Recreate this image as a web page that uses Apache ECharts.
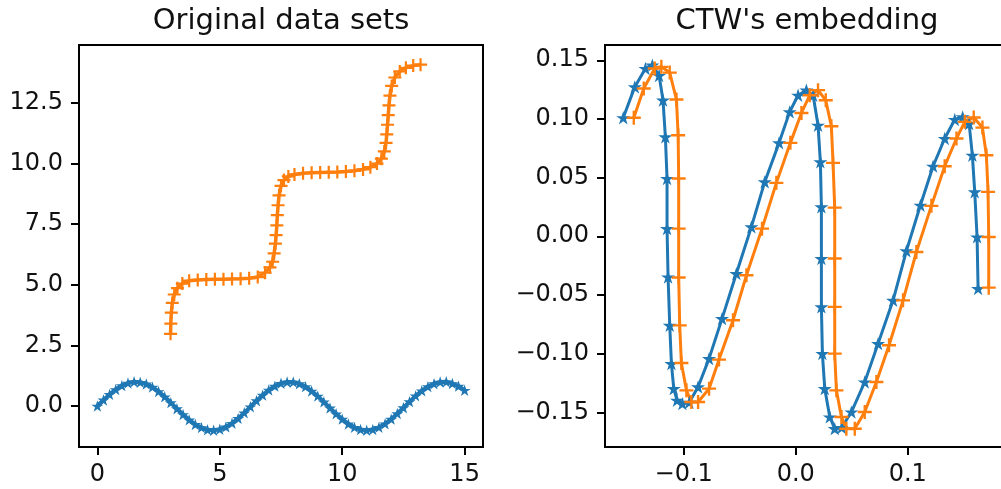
<!DOCTYPE html>
<html>
<head>
<meta charset="utf-8">
<script src="https://cdn.jsdelivr.net/npm/echarts@6/dist/echarts.min.js"></script>
<style>
html,body{margin:0;padding:0;background:#fff;}
#main{width:1001px;height:489px;}
</style>
</head>
<body>
<div id="main"></div>
<script>
// left panel: original data sets
var sinX = [0,0.25,0.5,0.75,1,1.25,1.5,1.75,2,2.25,2.5,2.75,3,3.25,3.5,3.75,4,4.25,4.5,4.75,5,5.25,5.5,5.75,6,6.25,6.5,6.75,7,7.25,7.5,7.75,8,8.25,8.5,8.75,9,9.25,9.5,9.75,10,10.25,10.5,10.75,11,11.25,11.5,11.75,12,12.25,12.5,12.75,13,13.25,13.5,13.75,14,14.25,14.5,14.75,15];
var sinY = [0.00,0.25,0.48,0.68,0.84,0.95,1.00,0.98,0.91,0.78,0.60,0.38,0.14,-0.11,-0.35,-0.57,-0.76,-0.89,-0.98,-1.00,-0.96,-0.86,-0.71,-0.51,-0.28,-0.03,0.22,0.45,0.66,0.82,0.94,0.99,0.99,0.92,0.80,0.62,0.41,0.17,-0.08,-0.32,-0.54,-0.74,-0.88,-0.97,-1.00,-0.97,-0.88,-0.73,-0.54,-0.31,-0.07,0.18,0.42,0.63,0.80,0.92,0.99,1.00,0.93,0.82,0.65];
var stepX = [2.99,3.0,3.02,3.06,3.14,3.27,3.47,3.75,4.1,4.45,4.8,5.15,5.5,5.85,6.2,6.55,6.85,7.05,7.16,7.22,7.27,7.3,7.33,7.35,7.38,7.42,7.5,7.62,7.8,8.05,8.4,8.75,9.1,9.45,9.8,10.15,10.5,10.85,11.15,11.42,11.6,11.72,11.79,11.82,11.85,11.88,11.91,11.95,12.02,12.15,12.35,12.6,12.9,13.2];
var stepY = [2.98,3.4,3.85,4.25,4.6,4.86,5.05,5.17,5.2,5.22,5.23,5.23,5.24,5.25,5.27,5.32,5.5,5.72,5.95,6.3,6.7,7.05,7.45,7.87,8.28,8.69,9.08,9.32,9.47,9.55,9.6,9.62,9.63,9.64,9.65,9.67,9.7,9.76,9.85,10.0,10.2,10.5,10.85,11.2,11.6,12.0,12.4,12.8,13.2,13.55,13.8,13.95,14.04,14.08];

// right panel: CTW's embedding
var ctwBlueX = [-0.154,-0.1437,-0.1342,-0.128,-0.122,-0.1185,-0.1164,-0.1149,-0.1149,-0.114,-0.1125,-0.111,-0.1089,-0.106,-0.1012,-0.095,-0.0872,-0.0774,-0.0658,-0.053,-0.0396,-0.0277,-0.0149,-0.0054,0.0021,0.0095,0.0155,0.0199,0.022,0.0229,0.0229,0.0229,0.0238,0.0259,0.0304,0.0348,0.041,0.0497,0.0616,0.0735,0.0869,0.0988,0.1113,0.1226,0.133,0.142,0.149,0.1548,0.1577,0.1598,0.1619,0.1628];
var ctwBlueY = [0.101,0.1273,0.143,0.1458,0.137,0.116,0.0847,0.0492,0.0065,-0.0347,-0.0759,-0.1086,-0.1299,-0.1398,-0.1427,-0.1415,-0.1284,-0.1043,-0.0702,-0.0318,0.008,0.0463,0.0796,0.106,0.1202,0.1245,0.1202,0.0946,0.0634,0.025,-0.019,-0.0602,-0.1,-0.1299,-0.154,-0.164,-0.163,-0.1498,-0.1242,-0.0915,-0.0546,-0.0125,0.0264,0.0597,0.0833,0.0995,0.1017,0.096,0.069,0.0378,-0.0006,-0.0446];
var ctwOrangeX = [-0.1446,-0.1357,-0.1259,-0.12,-0.1125,-0.1065,-0.105,-0.1045,-0.1045,-0.1045,-0.1036,-0.1021,-0.0976,-0.0932,-0.0872,-0.0774,-0.0685,-0.056,-0.044,-0.0301,-0.0173,-0.0048,0.0051,0.0125,0.0199,0.0268,0.0318,0.0333,0.0348,0.0348,0.0348,0.0348,0.0363,0.0408,0.0452,0.0527,0.0616,0.072,0.0833,0.0958,0.1077,0.1211,0.133,0.1435,0.1509,0.1589,0.1667,0.1702,0.1717,0.1723,0.1723];
var ctwOrangeY = [0.101,0.1259,0.143,0.1444,0.1395,0.1165,0.0861,0.0492,0.0065,-0.0352,-0.0759,-0.108,-0.1313,-0.1412,-0.1412,-0.1299,-0.1051,-0.0716,-0.0332,0.0065,0.0455,0.0796,0.1051,0.1202,0.1245,0.1159,0.0938,0.0625,0.0244,-0.019,-0.0602,-0.1,-0.1313,-0.154,-0.164,-0.164,-0.1498,-0.1242,-0.0929,-0.0546,-0.0134,0.0259,0.0597,0.0833,0.0975,0.1012,0.0926,0.069,0.0378,-0.0006,-0.0438];

// tick values
var leftXTicks = [0,5,10,15];
var leftYTicks = [0,2.5,5,7.5,10,12.5];
var rightXTicks = [-0.1,0,0.1];
var rightYTicks = [-0.15,-0.1,-0.05,0,0.05,0.1,0.15];

var titles = ['Original data sets', "CTW's embedding"];

function pairs(xs, ys){
	var out = [];
	for(var i=0;i<xs.length;i++){ out.push([xs[i], ys[i]]); }
	return out;
}
function fmt(d){
	return function(v){ return v.toFixed(d).replace('-', '\u2212'); };
}

var star = 'path://M100 0L122.45 69.1L195.1 69.1L136.3 111.8L158.8 180.9L100 138.2L41.2 180.9L63.7 111.8L4.9 69.1L77.55 69.1Z';
var plus = 'path://M0 41.5H41.5V0H58.5V41.5H100V58.5H58.5V100H41.5V58.5H0Z';
var blue = '#1f77b4', orange = '#ff7f0e';
var font = 'DejaVu Sans';

function axisOf(idx, min, max, ticks, d){
	return {
		type:'value', gridIndex:idx, min:min, max:max,
		axisLine:{show:false, onZero:false},
		splitLine:{show:false},
		axisTick:{show:true, length:8, customValues:ticks, lineStyle:{color:'#000', width:2}},
		axisLabel:{show:true, margin:16, customValues:ticks, formatter:fmt(d), color:'#111', fontSize:24, fontFamily:font}
	};
}

var chart = echarts.init(document.getElementById('main'));
var option = {
	animation:false,
	backgroundColor:'#fff',
	graphic:[
		{type:'text', x:281, y:21, style:{text:titles[0], font:'29px "DejaVu Sans"', fill:'#111', textAlign:'center', textVerticalAlign:'middle'}},
		{type:'text', x:807, y:21, style:{text:titles[1], font:'29px "DejaVu Sans"', fill:'#111', textAlign:'center', textVerticalAlign:'middle'}}
	],
	grid:[
		{left:79, top:45, width:404, height:402, outerBoundsMode:'none', containLabel:false, show:true, borderColor:'#000', borderWidth:2, backgroundColor:'transparent'},
		{left:605, top:45, width:404, height:402, outerBoundsMode:'none', containLabel:false, show:true, borderColor:'#000', borderWidth:2, backgroundColor:'transparent'}
	],
	xAxis:[
		axisOf(0, -0.75, 15.75, leftXTicks, 0),
		axisOf(1, -0.1703, 0.1904, rightXTicks, 1)
	],
	yAxis:[
		axisOf(0, -1.69, 14.89, leftYTicks, 1),
		axisOf(1, -0.1796, 0.163, rightYTicks, 2)
	],
	series:[
		{type:'line', xAxisIndex:0, yAxisIndex:0, data:pairs(sinX, sinY), symbol:star, symbolSize:12, symbolKeepAspect:true,
			itemStyle:{color:blue}, lineStyle:{color:blue, width:4}},
		{type:'line', xAxisIndex:0, yAxisIndex:0, data:pairs(stepX, stepY), symbol:plus, symbolSize:13,
			itemStyle:{color:orange}, lineStyle:{color:orange, width:3.5}},
		{type:'line', xAxisIndex:1, yAxisIndex:1, data:pairs(ctwBlueX, ctwBlueY), symbol:star, symbolSize:14, symbolKeepAspect:true,
			itemStyle:{color:blue}, lineStyle:{color:blue, width:3}},
		{type:'line', xAxisIndex:1, yAxisIndex:1, data:pairs(ctwOrangeX, ctwOrangeY), symbol:plus, symbolSize:14,
			itemStyle:{color:orange}, lineStyle:{color:orange, width:3}}
	]
};
chart.setOption(option);
</script>
</body>
</html>
